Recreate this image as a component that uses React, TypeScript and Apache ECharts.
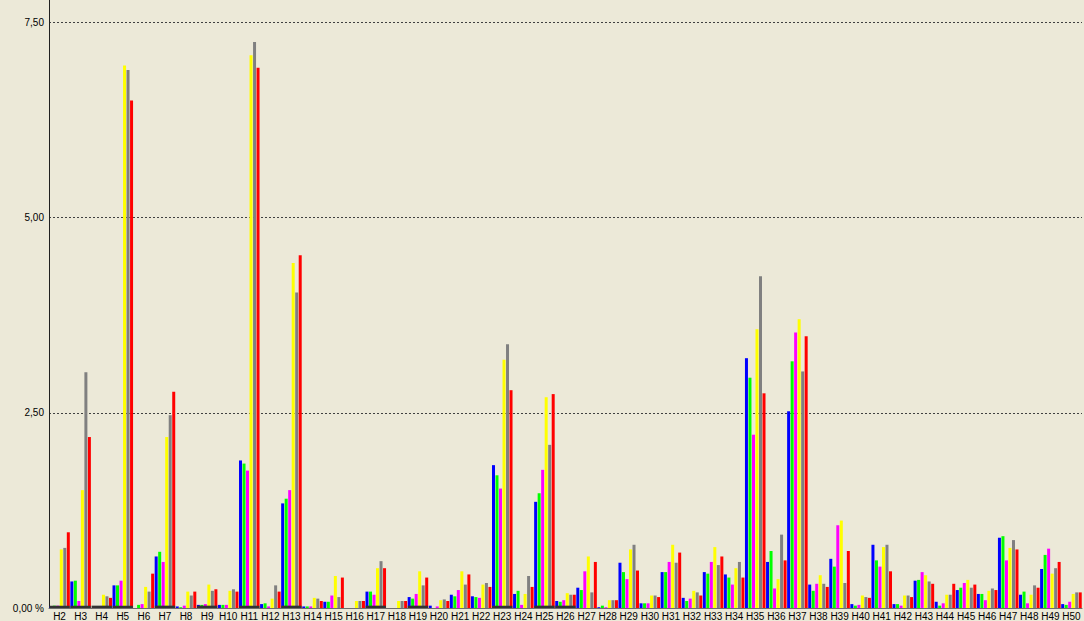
import React, { useEffect, useRef } from "react";
import * as echarts from "echarts";

const categories = [
  "H2", "H3", "H4", "H5", "H6", "H7", "H8", "H9", "H10", "H11", "H12", "H13", "H14", "H15", "H16", "H17",
  "H18", "H19", "H20", "H21", "H22", "H23", "H24", "H25", "H26", "H27", "H28", "H29", "H30", "H31", "H32", "H33",
  "H34", "H35", "H36", "H37", "H38", "H39", "H40", "H41", "H42", "H43", "H44", "H45", "H46", "H47", "H48", "H49", "H50",
];

const blueValues = [
  0.02, 0.34, 0, 0.29, 0, 0.66, 0.02, 0.04, 0.04, 1.89, 0.05, 1.34, 0.02, 0.08, 0, 0.21,
  0, 0.14, 0.03, 0.17, 0.15, 1.83, 0.18, 1.36, 0.09, 0.26, 0.01, 0.58, 0.06, 0.46, 0.13, 0.46,
  0.43, 3.2, 0.59, 2.52, 0.3, 0.63, 0.05, 0.81, 0.05, 0.35, 0.08, 0.23, 0.18, 0.9, 0.17, 0.5, 0.05,
];
const greenValues = [
  0.03, 0.35, 0, 0.29, 0.04, 0.72, 0.01, 0.04, 0.04, 1.85, 0.06, 1.4, 0.02, 0.08, 0, 0.21,
  0, 0.12, 0, 0.15, 0.14, 1.7, 0.22, 1.47, 0.08, 0.23, 0.03, 0.46, 0.06, 0.46, 0.09, 0.44,
  0.39, 2.95, 0.73, 3.16, 0.22, 0.53, 0.03, 0.61, 0.05, 0.36, 0.03, 0.26, 0.18, 0.92, 0.21, 0.68, 0.04,
];
const magentaValues = [
  0.03, 0.09, 0, 0.35, 0.05, 0.59, 0.03, 0.05, 0.04, 1.76, 0.02, 1.51, 0.02, 0.16, 0, 0.17,
  0, 0.18, 0.02, 0.23, 0.13, 1.53, 0.04, 1.77, 0.1, 0.47, 0.01, 0.37, 0.06, 0.59, 0.12, 0.59,
  0.3, 2.22, 0.25, 3.53, 0.31, 1.06, 0.04, 0.53, 0.03, 0.46, 0.06, 0.32, 0.1, 0.61, 0.06, 0.76, 0.08,
];
const yellowValues = [
  0.75, 1.51, 0.17, 6.95, 0.27, 2.19, 0.21, 0.3, 0.22, 7.08, 0.12, 4.42, 0.13, 0.41, 0.09, 0.51,
  0.09, 0.47, 0.1, 0.47, 0.3, 3.18, 0.18, 2.7, 0.19, 0.66, 0.1, 0.75, 0.16, 0.81, 0.22, 0.78,
  0.51, 3.57, 0.37, 3.7, 0.42, 1.12, 0.16, 0.78, 0.16, 0.42, 0.17, 0.36, 0.22, 0.77, 0.17, 0.44, 0.18,
];
const grayValues = [
  0.77, 3.02, 0.15, 6.89, 0.21, 2.47, 0.16, 0.22, 0.24, 7.25, 0.29, 4.04, 0.12, 0.14, 0.09, 0.6,
  0.09, 0.29, 0.11, 0.3, 0.32, 3.38, 0.41, 2.09, 0.17, 0.2, 0.1, 0.81, 0.16, 0.58, 0.2, 0.55,
  0.59, 4.25, 0.94, 3.03, 0.31, 0.32, 0.14, 0.81, 0.16, 0.34, 0.17, 0.26, 0.25, 0.87, 0.29, 0.51, 0.2,
];
const redValues = [
  0.97, 2.19, 0.13, 6.5, 0.44, 2.77, 0.21, 0.24, 0.21, 6.92, 0.21, 4.52, 0.09, 0.39, 0.09, 0.51,
  0.09, 0.39, 0.09, 0.43, 0.27, 2.79, 0.27, 2.74, 0.17, 0.59, 0.1, 0.48, 0.14, 0.71, 0.16, 0.66,
  0.39, 2.75, 0.61, 3.48, 0.27, 0.73, 0.13, 0.47, 0.14, 0.31, 0.31, 0.3, 0.23, 0.75, 0.26, 0.59, 0.2,
];
// dark base marks drawn under some categories (H2–H5, H7, H9, H11, H13, H17, H19, H23, H25, H26)
const baseMarkValues = [
  0.03, 0.03, 0.03, 0.03, 0, 0.03, 0, 0.03, 0, 0.03, 0, 0.03, 0, 0, 0, 0.03,
  0, 0.03, 0, 0, 0, 0.03, 0, 0.03, 0.03, 0, 0, 0, 0, 0, 0, 0,
  0, 0, 0, 0, 0, 0, 0, 0, 0, 0, 0, 0, 0, 0, 0, 0, 0,
];

const seriesDefs = [
  { name: "Blau", color: "#0000FF", data: blueValues },
  { name: "Grün", color: "#00FF00", data: greenValues },
  { name: "Magenta", color: "#FF00FF", data: magentaValues },
  { name: "Gelb", color: "#FFFF00", data: yellowValues },
  { name: "Grau", color: "#808080", data: grayValues },
  { name: "Rot", color: "#FF0000", data: redValues },
];

const FONT = "'Liberation Sans', Arial, sans-serif";

export default function App() {
  const ref = useRef<HTMLDivElement>(null);
  useEffect(() => {
    document.body.style.margin = "0";
    const chart = echarts.init(ref.current!, null, { renderer: "svg" });
    chart.setOption({
      animation: false,
      backgroundColor: "#ECE9D8",
      grid: { left: 49, right: 2, top: 22.5, bottom: 12.5 },
      xAxis: [
        {
          type: "category",
          data: categories,
          axisLine: { show: true, lineStyle: { color: "#6e6e6e", width: 1 } },
          axisTick: { show: false },
          axisLabel: {
            interval: 0,
            color: "#000",
            fontFamily: FONT,
            fontSize: 10,
            margin: 3,
          },
        },
        {
          type: "category",
          data: categories,
          position: "bottom",
          axisLine: { show: false },
          axisTick: { show: false },
          axisLabel: { show: false },
          splitLine: { show: false },
        },
      ],
      yAxis: {
        type: "value",
        min: 0,
        max: 7.5,
        interval: 2.5,
        axisLine: { show: true, lineStyle: { color: "#202020", width: 1 } },
        axisTick: { show: false },
        axisLabel: {
          color: "#000",
          fontFamily: FONT,
          fontSize: 10,
          margin: 5,
          formatter: (v: number) => (v === 0 ? "0,00 %" : v.toFixed(2).replace(".", ",")),
        },
        splitLine: {
          show: true,
          lineStyle: { color: "#404040", type: [2, 2], width: 1 },
        },
      },
      graphic: [
        {
          type: "line",
          shape: { x1: 49.5, y1: 0, x2: 49.5, y2: 23 },
          style: { stroke: "#202020", lineWidth: 1 },
        },
      ],
      series: [
        ...seriesDefs.map((s) => ({
          name: s.name,
          type: "bar",
          data: s.data,
          barWidth: 3,
          barGap: "17%",
          barCategoryGap: "0%",
          itemStyle: { color: s.color },
        })),
        {
          name: "Basis",
          type: "bar",
          xAxisIndex: 1,
          data: baseMarkValues,
          barWidth: "96%",
          z: 5,
          itemStyle: { color: "#333333" },
          silent: true,
        },
      ],
    });
    return () => chart.dispose();
  }, []);
  return (
    <div
      ref={ref}
      style={{ position: "absolute", left: 0, top: 0, width: 1084, height: 621 }}
    />
  );
}
